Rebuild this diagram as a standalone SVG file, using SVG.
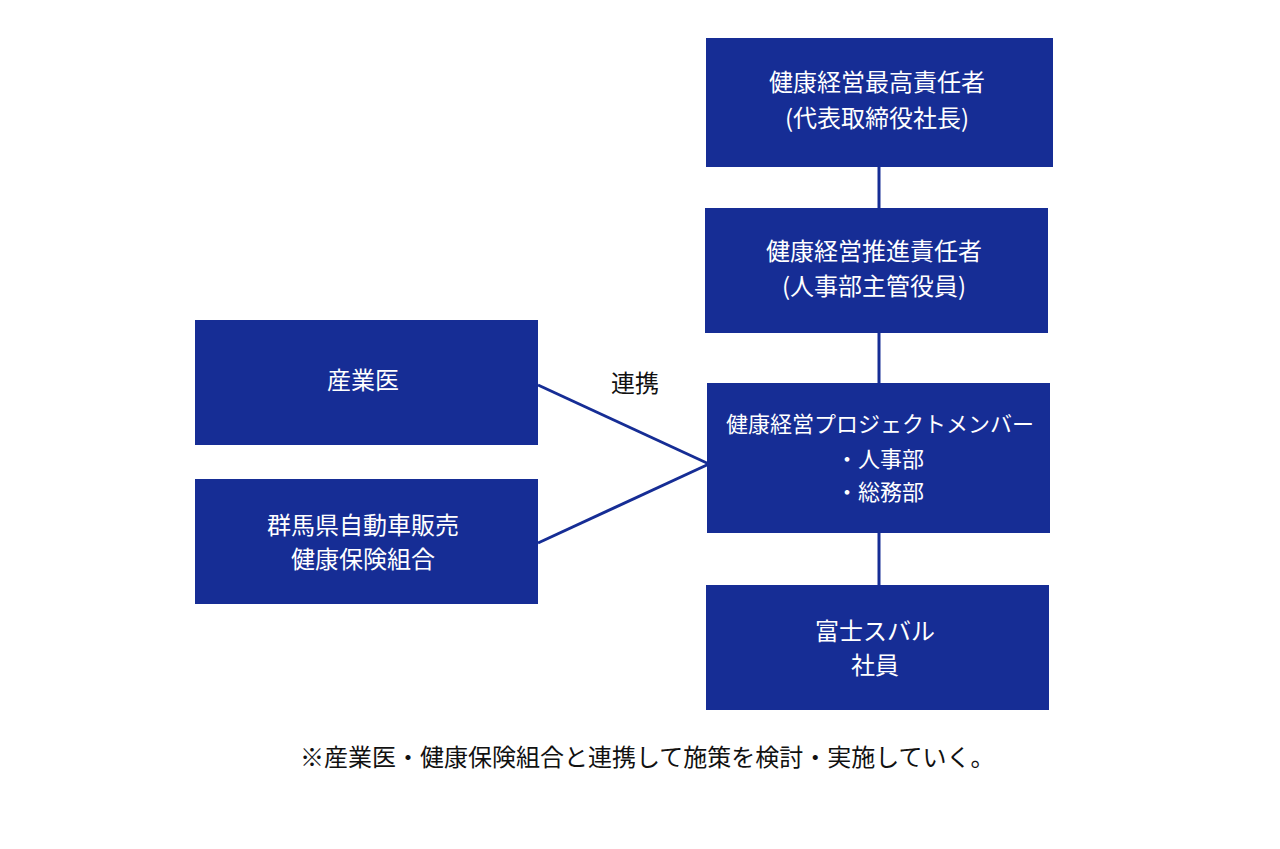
<svg xmlns="http://www.w3.org/2000/svg" width="1280" height="849" viewBox="0 0 1280 849">
<style>
.box{fill:#162d95}
.t{font-family:"Noto Sans CJK JP","Noto Sans",sans-serif;font-size:24px;fill:#fff;text-anchor:middle}
.s{font-size:22px}
.c{stroke:#162d95;stroke-width:3;fill:none}
.k{font-family:"Noto Sans CJK JP","Noto Sans",sans-serif;font-size:24px;fill:#111}
</style>
<rect width="1280" height="849" fill="#fff"/>
<g id="connectors">
<line class="c" x1="879" y1="167" x2="879" y2="208"/>
<line class="c" x1="879" y1="333" x2="879" y2="383"/>
<line class="c" x1="879" y1="533" x2="879" y2="585"/>
<line class="c" x1="538" y1="385" x2="709" y2="464"/>
<line class="c" x1="538" y1="543" x2="709" y2="464"/>
<text class="k" x="611" y="392">連携</text>
</g>
<g id="ceo">
<rect class="box" x="706" y="38" width="347" height="129"/>
<text class="t" x="877" y="91">健康経営最高責任者</text>
<text class="t" x="877" y="127">(代表取締役社長)</text>
</g>
<g id="promoter">
<rect class="box" x="705" y="208" width="343" height="125"/>
<text class="t" x="874" y="260">健康経営推進責任者</text>
<text class="t" x="874" y="295">(人事部主管役員)</text>
</g>
<g id="project">
<rect class="box" x="707" y="383" width="343" height="150"/>
<text class="t s" x="880" y="432">健康経営プロジェクトメンバー</text>
<text class="t s" x="880" y="467">・人事部</text>
<text class="t s" x="880" y="500">・総務部</text>
</g>
<g id="employees">
<rect class="box" x="706" y="585" width="343" height="125"/>
<text class="t" x="875" y="640">富士スバル</text>
<text class="t" x="875" y="674">社員</text>
</g>
<g id="doctor">
<rect class="box" x="195" y="320" width="343" height="125"/>
<text class="t" x="363" y="389">産業医</text>
</g>
<g id="insurance">
<rect class="box" x="195" y="479" width="343" height="125"/>
<text class="t" x="363" y="534">群馬県自動車販売</text>
<text class="t" x="363" y="568">健康保険組合</text>
</g>
<g id="note">
<text class="k" x="300" y="766">※産業医・健康保険組合と連携して施策を検討・実施していく。</text>
</g>
</svg>
